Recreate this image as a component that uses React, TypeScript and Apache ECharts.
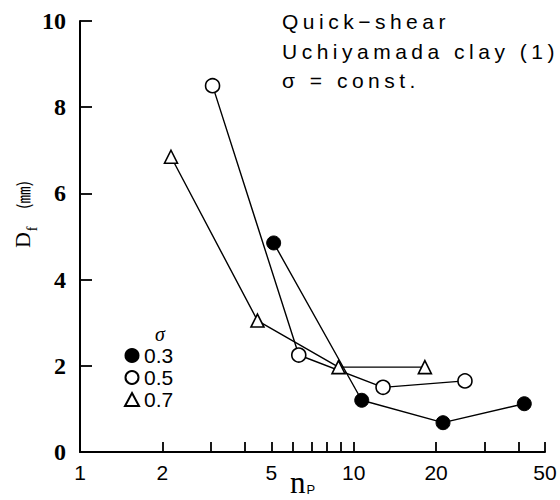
import React, { useEffect, useRef } from "react";
import * as echarts from "echarts";

// Tick marks / labels of the log x axis (n_P) and linear y axis (Df)
const xTickLabels = [1, 2, 5, 10, 20, 50];
const xTickValues = [2, 3, 4, 5, 6, 7, 8, 9, 10, 20, 30, 40, 50];
const yTickLabels = [0, 2, 4, 6, 8, 10];

// Series: sigma = 0.3 (filled circle), 0.5 (open circle), 0.7 (open triangle)
const seriesNames = ["0.3", "0.5", "0.7"];
const sigma03X = [5.1, 10.7, 21.2, 42];
const sigma03Y = [4.85, 1.2, 0.68, 1.12];
const sigma05X = [3.05, 6.3, 12.8, 25.5];
const sigma05Y = [8.5, 2.25, 1.5, 1.65];
const sigma07X = [2.15, 4.45, 8.8, 18.2];
const sigma07Y = [6.85, 3.05, 1.97, 1.97];

const titleLines = ["Quick\u2212shear", "Uchiyamada clay (1)", "\u03c3 = const."];

const pair = (xs: number[], ys: number[]) => xs.map((x, i) => [x, ys[i]]);

export default function App() {
  const ref = useRef<HTMLDivElement>(null);
  useEffect(() => {
    if (!ref.current) return;
    const chart = echarts.init(ref.current, undefined, { renderer: "svg" });
    const sans = "'Liberation Sans', Arial, sans-serif";
    const serif = "'Liberation Serif', 'Times New Roman', serif";
    const lineStyle = { color: "#000", width: 1.4 };
    const openStyle = { color: "#fff", borderColor: "#000", borderWidth: 1.6 };
    const fillStyle = { color: "#000", borderColor: "#000", borderWidth: 1 };
    chart.setOption({
      animation: false,
      backgroundColor: "#fff",
      grid: { left: 80, top: 21, width: 465, height: 431, outerBoundsMode: "none", containLabel: false },
      xAxis: {
        type: "log",
        logBase: 10,
        min: 1,
        max: 50,
        axisLine: { show: true, lineStyle: { color: "#000", width: 2 } },
        axisTick: {
          show: true,
          inside: true,
          length: 10,
          customValues: xTickValues,
          lineStyle: { color: "#000", width: 1.8 },
        },
        minorTick: { show: false },
        splitLine: { show: false },
        axisLabel: {
          customValues: xTickLabels,
          margin: 10,
          color: "#000",
          fontSize: 21,
          fontFamily: sans,
          showMinLabel: true,
          showMaxLabel: true,
        },
      },
      yAxis: {
        type: "value",
        min: 0,
        max: 10,
        interval: 2,
        axisLine: { show: true, lineStyle: { color: "#000", width: 2 } },
        axisTick: { show: true, inside: true, length: 12, lineStyle: { color: "#000", width: 1.8 } },
        splitLine: { show: false },
        axisLabel: {
          margin: 14,
          color: "#000",
          fontSize: 24,
          fontWeight: "bold",
          fontFamily: serif,
          formatter: (v: number) => (yTickLabels.includes(v) ? String(v) : ""),
        },
      },
      legend: {
        orient: "vertical",
        left: 124,
        top: 345,
        padding: 0,
        itemWidth: 14,
        itemHeight: 13,
        itemGap: 1,
        textStyle: { color: "#000", fontSize: 21, fontFamily: "'Liberation Sans Narrow', " + sans, lineHeight: 21 },
        data: [
          { name: seriesNames[0], icon: "circle" },
          { name: seriesNames[1], icon: "circle" },
          { name: seriesNames[2], icon: "triangle" },
        ],
      },
      graphic: [
        {
          type: "text",
          left: 282,
          top: 11,
          style: { text: titleLines[0], fontSize: 21, fontFamily: sans, fill: "#000" },
        },
        {
          type: "text",
          left: 282,
          top: 41,
          style: { text: titleLines[1], fontSize: 21, fontFamily: sans, fill: "#000" },
        },
        {
          type: "text",
          left: 282,
          top: 70,
          style: { text: titleLines[2], fontSize: 21, fontFamily: sans, fill: "#000" },
        },
        {
          type: "text",
          x: 160,
          y: 334,
          style: {
            text: "\u03c3",
            fontSize: 20,
            fontStyle: "italic",
            fontFamily: serif,
            fill: "#000",
            align: "center",
            verticalAlign: "middle",
          },
        },
        {
          type: "group",
          x: 22,
          y: 258,
          rotation: Math.PI / 2,
          children: [
            {
              type: "text",
              x: 18,
              y: 0,
              style: { text: "D", fontSize: 22, fontFamily: serif, fill: "#000", align: "center", verticalAlign: "middle" },
            },
            {
              type: "text",
              x: 29,
              y: 10,
              style: { text: "f", fontSize: 14, fontFamily: serif, fill: "#000", align: "center", verticalAlign: "middle" },
            },
            {
              type: "text",
              x: 63,
              y: 0,
              style: {
                text: "(\u339c)",
                fontSize: 17,
                fontFamily: "'Noto Sans CJK JP', " + serif,
                fill: "#000",
                align: "center",
                verticalAlign: "middle",
              },
            },
          ],
        },
        {
          type: "text",
          left: 290,
          top: 467,
          style: {
            text: "{n|n}{p|P}",
            fill: "#000",
            rich: {
              n: { fontSize: 31, fontFamily: serif, fill: "#000" },
              p: { fontSize: 13, fontFamily: sans, fill: "#000", padding: [14, 0, 0, 1] },
            },
          },
        },
      ],
      series: [
        {
          name: seriesNames[0],
          type: "line",
          data: pair(sigma03X, sigma03Y),
          symbol: "circle",
          symbolSize: 14,
          lineStyle,
          itemStyle: fillStyle,
        },
        {
          name: seriesNames[1],
          type: "line",
          data: pair(sigma05X, sigma05Y),
          symbol: "circle",
          symbolSize: 14,
          lineStyle,
          itemStyle: openStyle,
        },
        {
          name: seriesNames[2],
          type: "line",
          data: pair(sigma07X, sigma07Y),
          symbol: "triangle",
          symbolSize: 13,
          lineStyle,
          itemStyle: openStyle,
        },
      ],
    });
    // widen the letter spacing of the title lines, as in the original print
    const texts = ref.current.querySelectorAll("text");
    texts.forEach((t) => {
      const s = t.textContent || "";
      if (titleLines.includes(s)) {
        (t as SVGTextElement).style.letterSpacing = "4.5px";
      }
    });
    return () => chart.dispose();
  }, []);
  return (
    <div
      ref={ref}
      style={{ position: "fixed", left: 0, top: 0, width: 560, height: 500, background: "#fff" }}
    />
  );
}
